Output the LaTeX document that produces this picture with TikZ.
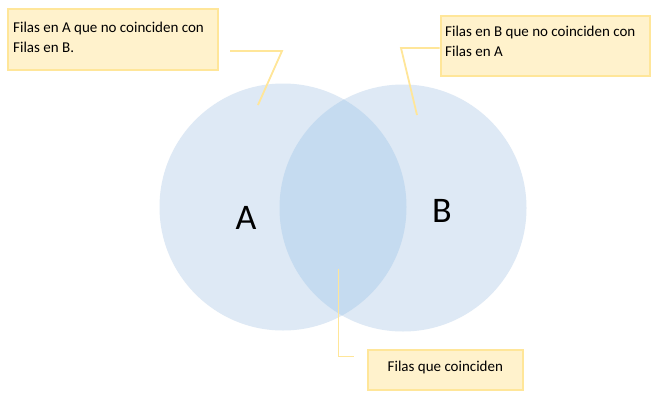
\documentclass[tikz,border=0pt]{standalone}
\usepackage{fontspec}
\setmainfont{Carlito}
\definecolor{circ}{HTML}{DEE9F5}
\definecolor{overlap}{HTML}{C5DBF0}
\definecolor{boxfill}{HTML}{FFF2CC}
\definecolor{boxline}{HTML}{FFE699}
\begin{document}
\begin{tikzpicture}[x=1pt,y=-1pt,
  callout/.style={draw=boxline,line width=2.2pt,fill=boxfill,inner sep=0pt,anchor=north west},
  leader/.style={draw=boxline,line width=1.8pt},
  txt/.style={font=\fontsize{15}{19.5}\selectfont,align=left,anchor=north west,inner sep=0pt},
  setlabel/.style={font=\fontsize{36}{36}\selectfont,inner sep=0pt}]
\useasboundingbox (0,0) rectangle (661,407);
\fill[white] (0,0) rectangle (661,407);
% circles
\fill[circ] (283,207) circle (123.5);
\fill[circ] (403,208) circle (123.5);
\begin{scope}
  \clip (283,207) circle (123.5);
  \fill[overlap] (403,208) circle (123.5);
\end{scope}
\node[setlabel] (A) at (246,218) {A};
\node[setlabel] (B) at (442,211) {B};
% callout boxes
\node[callout,minimum width=210.5pt,minimum height=61pt] (box1) at (6.5,7.5) {};
\node[txt] (t1) at (13,22) {Filas en A que no coinciden con\\Filas en B.};
\node[callout,minimum width=209pt,minimum height=60.5pt] (box2) at (439.5,14.5) {};
\node[txt] (t2) at (445,26) {Filas en B que no coinciden con\\Filas en A};
\node[callout,minimum width=155pt,minimum height=40pt] (box3) at (367,348.5) {};
\node[txt,anchor=west] (t3) at (387.5,367) {Filas que coinciden};
% leaders
\coordinate (l1a) at (230,51);
\coordinate (l1b) at (282,51);
\coordinate (l1c) at (258,105);
\draw[leader] (l1a) -- (l1b) -- (l1c);
\coordinate (l2b) at (401,48);
\coordinate (l2c) at (417,115);
\draw[leader] (box2.west |- l2b) -- (l2b) -- (l2c);
\coordinate (l3a) at (338.5,269);
\coordinate (l3b) at (338.5,356.5);
\coordinate (l3c) at (353.5,356.5);
\draw[leader] (l3a) -- (l3b) -- (l3c);
\end{tikzpicture}
\end{document}
